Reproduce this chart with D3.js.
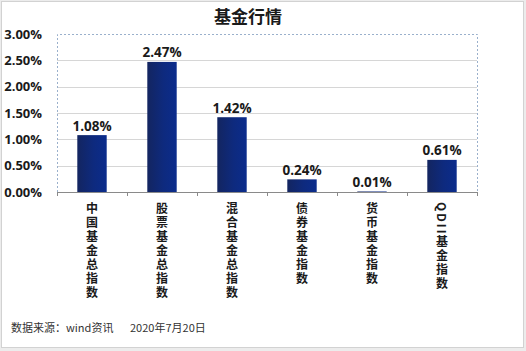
<!DOCTYPE html>
<html>
<head>
<meta charset="utf-8">
<script src="https://cdn.jsdelivr.net/npm/d3@7"></script>
<style>
  body { margin: 0; background: #ececec; }
  svg { display: block; }
</style>
</head>
<body>
<svg id="chart" width="526" height="351"></svg>
<script>
const categories = ["中国基金总指数", "股票基金总指数", "混合基金总指数", "债券基金指数", "货币基金指数", "QDII基金指数"]
const values = [1.08, 2.47, 1.42, 0.24, 0.01, 0.61]
const yTicks = [0, 0.5, 1, 1.5, 2, 2.5, 3]
const title = "基金行情"
const sourceNote = "数据来源：wind资讯"
const dateNote = "2020年7月20日"

const width = 526, height = 351
const plot = { left: 57, right: 477, top: 34, bottom: 192 }
const cjk = "'Noto Sans CJK SC', sans-serif"
const latin = "'Open Sans', 'Liberation Sans', sans-serif"

const svg = d3.select("#chart")

// outer frame
svg.append("rect").attr("x", 1.5).attr("y", 1.5).attr("width", 522).attr("height", 346)
    .attr("fill", "#fff").attr("stroke", "#d2d2d2")

const defs = svg.append("defs")
const grad = defs.append("linearGradient").attr("id", "barGrad")
grad.append("stop").attr("offset", "0%").attr("stop-color", "#132560")
grad.append("stop").attr("offset", "55%").attr("stop-color", "#0e2a7e")
grad.append("stop").attr("offset", "100%").attr("stop-color", "#0b2c8c")

const x = d3.scaleBand().domain(categories).range([plot.left, plot.right]).paddingInner(0.58).paddingOuter(0.29)
const step = x.step()
const y = d3.scaleLinear().domain([0, 3]).range([plot.bottom, plot.top])

// gridlines
svg.append("g").selectAll("line")
    .data(yTicks.filter(t => t > 0 && t < 3))
    .join("line")
    .attr("x1", plot.left).attr("x2", plot.right)
    .attr("y1", d => Math.round(y(d)) + 0.5).attr("y2", d => Math.round(y(d)) + 0.5)
    .attr("stroke", "#d6d6d6")

// dotted plot border
svg.append("path")
    .attr("d", `M${plot.left + 0.5},${plot.bottom}V${plot.top + 0.5}H${plot.right + 0.5}V${plot.bottom}`)
    .attr("fill", "none").attr("stroke", "#9ab0cc").attr("stroke-dasharray", "2,2")

// y labels
svg.append("g").selectAll("text")
    .data(yTicks)
    .join("text")
    .attr("x", 42).attr("y", d => y(d)).attr("dy", "0.35em")
    .attr("text-anchor", "end")
    .attr("font-family", latin).attr("font-weight", "bold").attr("font-size", 13)
    .attr("fill", "#1a1a1a")
    .text(d => d3.format(".2f")(d) + "%")

// bars
svg.append("g").selectAll("rect")
    .data(categories)
    .join("rect")
    .attr("x", d => x(d)).attr("width", x.bandwidth())
    .attr("y", (d, i) => y(values[i]))
    .attr("height", (d, i) => y(0) - y(values[i]))
    .attr("fill", "url(#barGrad)")

// baseline and category ticks
svg.append("line").attr("x1", plot.left).attr("x2", plot.right + 1)
    .attr("y1", plot.bottom + 0.5).attr("y2", plot.bottom + 0.5).attr("stroke", "#8a8a8a")
svg.append("g").selectAll("line")
    .data(d3.range(categories.length + 1))
    .join("line")
    .attr("x1", i => Math.round(plot.left + i * step) + 0.5)
    .attr("x2", i => Math.round(plot.left + i * step) + 0.5)
    .attr("y1", plot.bottom).attr("y2", plot.bottom + 4)
    .attr("stroke", "#8a8a8a")

// value labels
svg.append("g").selectAll("text")
    .data(categories)
    .join("text")
    .attr("x", d => x(d) + x.bandwidth() / 2)
    .attr("y", (d, i) => y(values[i]) - 4.5)
    .attr("text-anchor", "middle")
    .attr("font-family", latin).attr("font-weight", "bold").attr("font-size", 13.5)
    .attr("fill", "#1a1a1a")
    .text((d, i) => d3.format(".2f")(values[i]) + "%")

// vertical category labels (latin runs turn sideways, like the original)
svg.append("g").selectAll("text")
    .data(categories)
    .join("text")
    .attr("x", d => x(d) + x.bandwidth() / 2)
    .attr("y", 202)
    .style("writing-mode", "vertical-rl")
    .style("text-orientation", "mixed")
    .style("letter-spacing", "2px")
    .attr("font-family", cjk).attr("font-weight", "bold").attr("font-size", 12)
    .attr("fill", "#1a1a1a")
    .text(d => d)

// title
svg.append("text").attr("x", 248).attr("y", 23)
    .attr("text-anchor", "middle")
    .attr("font-family", cjk).attr("font-weight", "bold").attr("font-size", 17)
    .attr("fill", "#1a1a1a")
    .text(title)

// source note
svg.append("text").attr("x", 11).attr("y", 332)
    .attr("font-family", cjk).attr("font-size", 11)
    .attr("fill", "#333")
    .text(sourceNote)
svg.append("text").attr("x", 130).attr("y", 332)
    .attr("font-family", cjk).attr("font-size", 11)
    .attr("fill", "#333")
    .text(dateNote)
</script>
</body>
</html>
